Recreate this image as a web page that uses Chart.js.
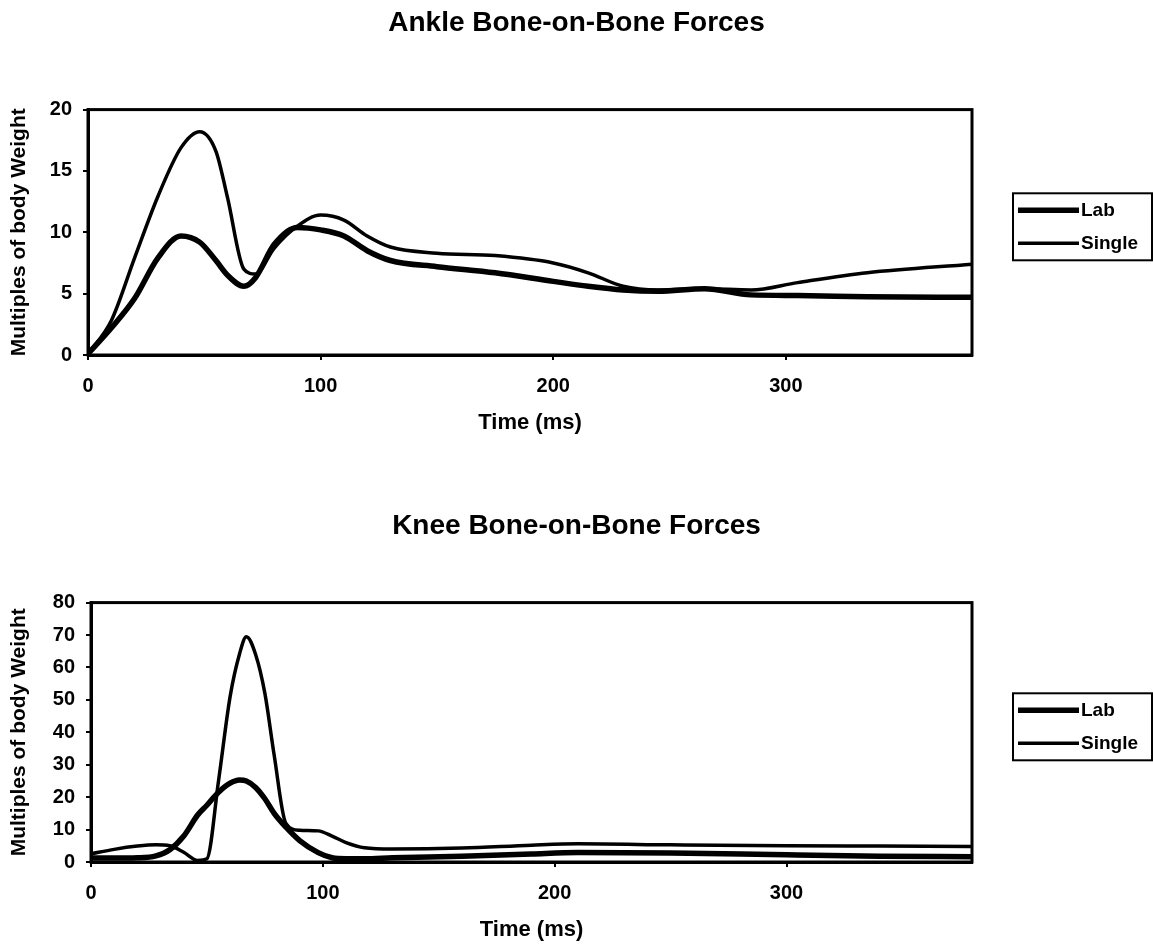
<!DOCTYPE html>
<html>
<head>
<meta charset="utf-8">
<title>Bone-on-Bone Forces</title>
<script src="https://cdn.jsdelivr.net/npm/chart.js@4.4.0/dist/chart.umd.min.js"></script>
<style>
  body { margin: 0; background: #fff; }
  .box { position: relative; width: 1153px; }
  #ankleBox { height: 490px; }
  #kneeBox { height: 457px; }
</style>
</head>
<body>
<div class="box" id="ankleBox"><canvas id="ankleChart"></canvas></div>
<div class="box" id="kneeBox"><canvas id="kneeChart"></canvas></div>
<script>
// ankle forces (multiples of body weight)
const ankleTime   = [0, 10, 20, 30, 40, 48, 55, 60, 67, 72, 80, 90, 100, 110, 120, 130, 150, 175, 200, 215, 230, 245, 265, 285, 305, 335, 380];
const ankleLab    = [0.1, 2.2, 4.6, 7.9, 9.7, 9.2, 7.7, 6.5, 5.6, 6.3, 9.0, 10.4, 10.2, 9.7, 8.5, 7.7, 7.2, 6.7, 6.0, 5.6, 5.3, 5.2, 5.4, 4.9, 4.85, 4.75, 4.7];
const ankleSingle = [0.1, 2.8, 7.9, 12.9, 16.9, 18.2, 16.6, 12.8, 7.0, 6.6, 8.7, 10.5, 11.4, 11.0, 9.7, 8.8, 8.3, 8.1, 7.5, 6.7, 5.6, 5.3, 5.4, 5.3, 5.9, 6.7, 7.4];
const ankleTicks  = [0, 5, 10, 15, 20];

// knee forces
const kneeTime   = [0, 10, 20, 28, 34, 40, 46, 50, 55, 60, 64, 67, 71, 75, 79, 84, 90, 98, 104, 110, 118, 130, 160, 190, 210, 250, 300, 340, 380];
const kneeLab    = [1.2, 1.2, 1.3, 1.9, 3.8, 8.0, 14.5, 17.5, 21.5, 24.3, 25.3, 25.0, 23.0, 19.5, 15.0, 10.8, 6.6, 2.9, 1.3, 1.0, 1.0, 1.3, 1.8, 2.5, 2.9, 2.8, 2.2, 1.8, 1.6];
const kneeSingle = [2.5, 3.9, 4.9, 5.3, 5.0, 3.0, 0.5, 1.0, 25.0, 51.0, 64.0, 69.5, 64.0, 52.0, 33.0, 12.0, 9.8, 9.6, 8.0, 6.0, 4.4, 4.0, 4.3, 5.2, 5.6, 5.3, 5.0, 4.9, 4.8];
const kneeTicks  = [0, 10, 20, 30, 40, 50, 60, 70, 80];

const timeTicks = [0, 100, 200, 300];
const seriesNames = ["Lab", "Single"];

const FONT = "'Liberation Sans', Arial, sans-serif";
Chart.defaults.font.family = FONT;
Chart.defaults.color = "#000";

// black frame round the plot area
const plotFrame = {
  id: "plotFrame",
  afterDatasetsDraw(chart) {
    const { ctx, chartArea: a } = chart;
    ctx.save();
    ctx.strokeStyle = "#000";
    ctx.lineWidth = 3;
    ctx.strokeRect(a.left, a.top, a.right - a.left, a.bottom - a.top);
    ctx.restore();
  }
};

// boxed legend to the right of the plot
const boxLegend = {
  id: "boxLegend",
  afterDraw(chart) {
    const { ctx, chartArea } = chart;
    const left = chartArea.right + 41;
    const top = (chartArea.top + chartArea.bottom) / 2 - 39;
    ctx.save();
    ctx.strokeStyle = "#000";
    ctx.fillStyle = "#000";
    ctx.lineWidth = 2;
    ctx.strokeRect(left, top, 139, 67);
    ctx.font = "bold 19px " + FONT;
    ctx.textBaseline = "middle";
    chart.data.datasets.forEach((ds, i) => {
      const y = top + 17 + i * 33;
      ctx.lineWidth = ds.borderWidth;
      ctx.beginPath();
      ctx.moveTo(left + 5, y);
      ctx.lineTo(left + 66, y);
      ctx.stroke();
      ctx.fillText(ds.label, left + 68, y);
    });
    ctx.restore();
  }
};

function buildChart(id, o) {
  const points = (vals) => o.time.map((t, i) => ({ x: t, y: vals[i] }));
  return new Chart(document.getElementById(id), {
    type: "line",
    data: {
      datasets: [
        { label: seriesNames[0], data: points(o.lab), borderColor: "#000", borderWidth: 5.5,
          pointRadius: 0, cubicInterpolationMode: "monotone" },
        { label: seriesNames[1], data: points(o.single), borderColor: "#000", borderWidth: 3.5,
          pointRadius: 0, cubicInterpolationMode: "monotone" }
      ]
    },
    options: {
      responsive: true,
      maintainAspectRatio: false,
      animation: false,
      layout: { padding: { left: 0, right: 0, top: 0, bottom: o.padBottom } },
      plugins: {
        legend: { display: false },
        tooltip: { enabled: false },
        title: {
          display: true,
          text: o.title,
          color: "#000",
          font: { size: 28, weight: "bold" },
          padding: { top: o.titleTop, bottom: o.titleBottom }
        }
      },
      scales: {
        x: {
          type: "linear",
          min: 0,
          max: 380,
          afterBuildTicks: (s) => { s.ticks = timeTicks.map(v => ({ value: v })); },
          afterFit: (s) => { s.height = 81; },
          ticks: { font: { size: 20, weight: "bold" }, padding: 14, maxRotation: 0 },
          grid: { drawOnChartArea: false, tickLength: 5, color: "#000", lineWidth: 2 },
          border: { color: "#000", width: 3 },
          title: { display: true, text: "Time (ms)", font: { size: 22, weight: "bold" }, padding: 0 }
        },
        y: {
          min: 0,
          max: o.yTicks[o.yTicks.length - 1],
          afterBuildTicks: (s) => { s.ticks = o.yTicks.map(v => ({ value: v })); },
          afterFit: (s) => { s.width = o.yWidth; },
          ticks: { font: { size: 20, weight: "bold" }, padding: 11 },
          grid: { drawOnChartArea: false, tickLength: 5, color: "#000", lineWidth: 2 },
          border: { color: "#000", width: 3 },
          title: { display: true, text: "Multiples of body Weight", font: { size: 21, weight: "bold" },
                   padding: { top: 7, bottom: 0 } }
        },
        // empty right-hand axis that only reserves the room for the legend
        side: {
          position: "right",
          afterFit: (s) => { s.width = 181; },
          ticks: { display: false },
          grid: { display: false },
          border: { display: false }
        }
      }
    },
    plugins: [plotFrame, boxLegend]
  });
}

buildChart("ankleChart", {
  title: "Ankle Bone-on-Bone Forces",
  time: ankleTime, lab: ankleLab, single: ankleSingle, yTicks: ankleTicks,
  titleTop: 6, titleBottom: 70, padBottom: 54, yWidth: 88
});

buildChart("kneeChart", {
  title: "Knee Bone-on-Bone Forces",
  time: kneeTime, lab: kneeLab, single: kneeSingle, yTicks: kneeTicks,
  titleTop: 19, titleBottom: 60, padBottom: 4, yWidth: 91
});
</script>
</body>
</html>
